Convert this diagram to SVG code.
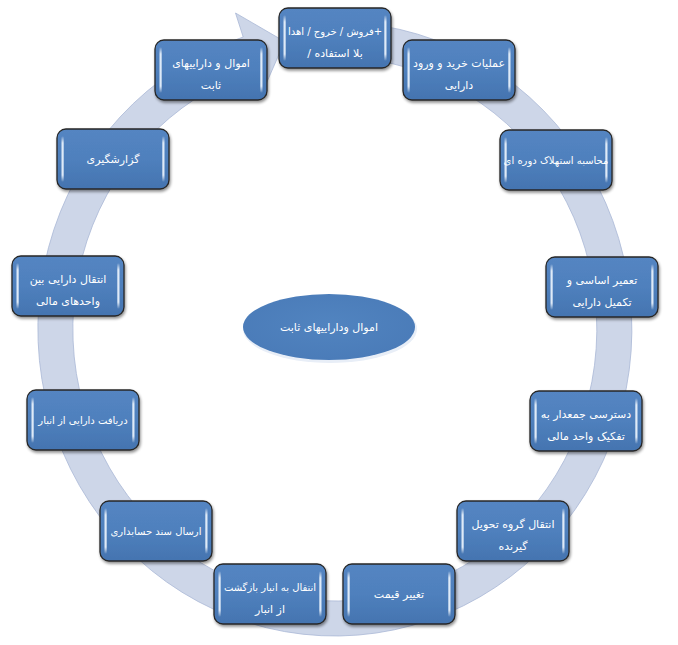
<svg xmlns="http://www.w3.org/2000/svg" xmlns:xlink="http://www.w3.org/1999/xlink" width="678" height="645" viewBox="0 0 678 645">
<defs>
<style>
.t{font-family:"DejaVu Sans",sans-serif;font-size:11px;fill:#ffffff;text-anchor:middle;direction:rtl}
.s{font-size:10px}
.band{fill:#cdd6e8;stroke:#a9b8d6;stroke-width:0.8}
</style>
<linearGradient id="bg" x1="0" y1="0" x2="0" y2="1">
<stop offset="0" stop-color="#5485c2"/>
<stop offset="0.5" stop-color="#4f80bd"/>
<stop offset="1" stop-color="#4474b0"/>
</linearGradient>
<linearGradient id="hl" x1="0" y1="0" x2="0" y2="1">
<stop offset="0" stop-color="#ffffff" stop-opacity="0"/>
<stop offset="0.15" stop-color="#e6f0fb" stop-opacity="0.95"/>
<stop offset="0.85" stop-color="#e6f0fb" stop-opacity="0.95"/>
<stop offset="1" stop-color="#ffffff" stop-opacity="0"/>
</linearGradient>
<radialGradient id="eg" cx="0.5" cy="0.45" r="0.6">
<stop offset="0" stop-color="#5184c0"/>
<stop offset="1" stop-color="#4a7bb8"/>
</radialGradient>
<filter id="sh" x="-10%" y="-10%" width="125%" height="130%">
<feGaussianBlur in="SourceAlpha" stdDeviation="1.5"/>
<feOffset dx="1" dy="2" result="b"/>
<feComponentTransfer><feFuncA type="linear" slope="0.45"/></feComponentTransfer>
<feMerge><feMergeNode/><feMergeNode in="SourceGraphic"/></feMerge>
</filter>
<g id="box">
<rect x="0" y="0" width="112" height="60" rx="9" ry="9" fill="url(#bg)" stroke="#262626" stroke-width="1.3" filter="url(#sh)"/>
<rect x="4.5" y="7" width="2.2" height="46" rx="1" fill="url(#hl)"/>
<rect x="105.3" y="7" width="2.2" height="46" rx="1" fill="url(#hl)"/>
</g>
</defs>
<rect width="678" height="645" fill="#ffffff"/>
<g id="connectors">
<path class="band" d="M345.4 22.2 A297 307 0 1 1 243.2 37 L235.5 13 L284.6 41.5 L261.7 94 L254 70.3 A262 272 0 1 0 344.1 57.2 Z"/>
</g>
<g id="center">
<ellipse cx="330" cy="329" rx="87" ry="34" fill="#e8eef7"/>
<ellipse cx="329" cy="327" rx="86" ry="33" fill="url(#eg)"/>
<text class="t" x="329" y="331">اموال وداراییهای ثابت</text>
</g>
<g id="n1"><use xlink:href="#box" x="279" y="8"/><text class="t s" x="335" y="35">+فروش / خروج / اهدا</text><text class="t" x="335" y="57">بلا استفاده /</text></g>
<g id="n2"><use xlink:href="#box" x="403" y="40"/><text class="t" x="459" y="67">عملیات خرید و ورود</text><text class="t" x="459" y="89">دارایی</text></g>
<g id="n3"><use xlink:href="#box" x="500" y="130"/><text class="t s" x="556" y="164">محاسبه استهلاک دوره ای</text></g>
<g id="n4"><use xlink:href="#box" x="546" y="257"/><text class="t" x="602" y="284">تعمیر اساسی و</text><text class="t" x="602" y="306">تکمیل دارایی</text></g>
<g id="n5"><use xlink:href="#box" x="530" y="391"/><text class="t" x="586" y="418">دسترسی جمعدار به</text><text class="t" x="586" y="440">تفکیک واحد مالی</text></g>
<g id="n6"><use xlink:href="#box" x="457" y="501"/><text class="t" x="513" y="528">انتقال گروه تحویل</text><text class="t" x="513" y="550">گیرنده</text></g>
<g id="n7"><use xlink:href="#box" x="343" y="564"/><text class="t" x="399" y="598">تغییر قیمت</text></g>
<g id="n8"><use xlink:href="#box" x="214" y="564"/><text class="t s" x="270" y="591">انتقال به انبار بازگشت</text><text class="t" x="270" y="613">از انبار</text></g>
<g id="n9"><use xlink:href="#box" x="100" y="501"/><text class="t s" x="156" y="535">ارسال سند حسابداری</text></g>
<g id="n10"><use xlink:href="#box" x="27" y="390"/><text class="t s" x="83" y="424">دریافت دارایی از انبار</text></g>
<g id="n11"><use xlink:href="#box" x="12" y="256"/><text class="t" x="68" y="283">انتقال دارایی بین</text><text class="t" x="68" y="305">واحدهای مالی</text></g>
<g id="n12"><use xlink:href="#box" x="57" y="129"/><text class="t" x="113" y="163">گزارشگیری</text></g>
<g id="n13"><use xlink:href="#box" x="155" y="40"/><text class="t" x="211" y="67">اموال و داراییهای</text><text class="t" x="211" y="89">ثابت</text></g>
</svg>
